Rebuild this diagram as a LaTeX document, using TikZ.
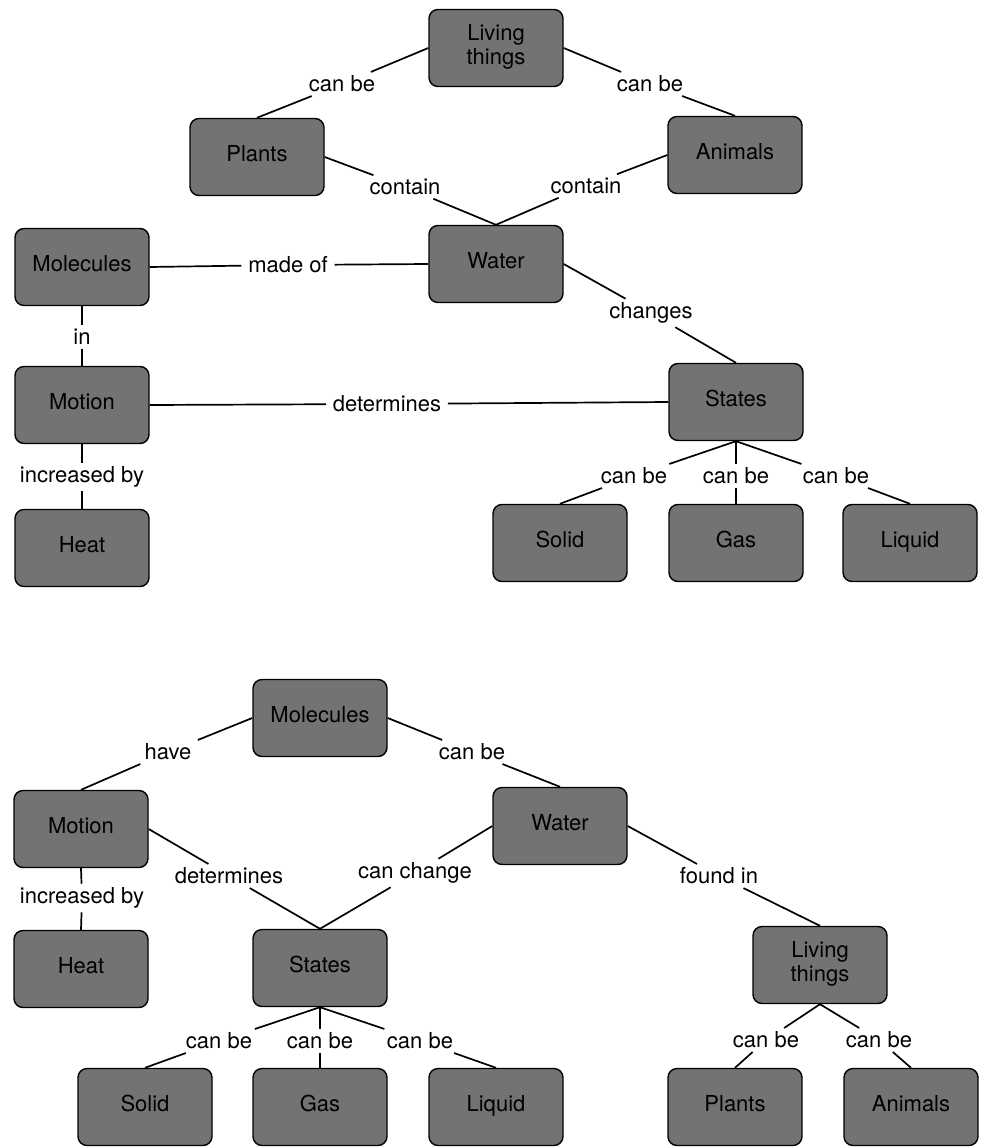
\documentclass[tikz,border=0pt]{standalone}
\usepackage{fontspec}
\setmainfont{TeX Gyre Heros}
\begin{document}
\begin{tikzpicture}[x=1pt,y=-1pt,
  box/.style={draw=black,line width=1.4pt,rounded corners=9pt,fill=black!55,
    minimum width=134pt,minimum height=77pt,align=center,
    font=\fontsize{22}{24}\selectfont,execute at begin node=\strut},
  lbl/.style={inner xsep=6pt,inner ysep=3pt,font=\fontsize{22}{24}\selectfont},
  every path/.style={line width=1.7pt}]
   \useasboundingbox (0,0) rectangle (982,1147);

   % first map
   \node[box] (tliv) at (496,48) {Living\\things};
   \node[box] (tpla) at (257,157) {Plants};
   \node[box] (tani) at (735,155) {Animals};
   \node[box] (twat) at (496,264) {Water};
   \node[box] (tmol) at (82,267) {Molecules};
   \node[box] (tmot) at (82,405) {Motion};
   \node[box] (thea) at (82,548) {Heat};
   \node[box] (tsta) at (736,402) {States};
   \node[box] (tsol) at (560,543) {Solid};
   \node[box] (tgas) at (736,543) {Gas};
   \node[box] (tliq) at (910,543) {Liquid};

   \node[lbl] (tcb1) at (342,84) {can be};
   \node[lbl] (tcb2) at (650,84) {can be};
   \node[lbl] (tcon1) at (405,187) {contain};
   \node[lbl] (tcon2) at (586,186) {contain};
   \node[lbl] (tmade) at (288,265) {made of};
   \node[lbl] (tin) at (82,337) {in};
   \node[lbl] (tchg) at (651,313) {changes};
   \node[lbl] (tdet) at (387,404) {determines};
   \node[lbl] (tinc) at (82,477) {increased by};
   \node[lbl] (tcb3) at (634,476) {can be};
   \node[lbl] (tcb4) at (736,476) {can be};
   \node[lbl] (tcb5) at (836,476) {can be};

   \draw (tliv.west) -- (tcb1) (tcb1) -- (tpla.north);
   \draw (tliv.east) -- (tcb2) (tcb2) -- (tani.north);
   \draw (tpla.east) -- (tcon1) (tcon1) -- (twat.north);
   \draw (tani.west) -- (tcon2) (tcon2) -- (twat.north);
   \draw (tmol.east) -- (tmade) (tmade) -- (twat.west);
   \draw (tmol.south) -- (tin) (tin) -- (tmot.north);
   \draw (twat.east) -- (tchg) (tchg) -- (tsta.north);
   \draw (tmot.east) -- (tdet) (tdet) -- (tsta.west);
   \draw (tmot.south) -- (tinc) (tinc) -- (thea.north);
   \draw (tsta.south) -- (tcb3) (tcb3) -- (tsol.north);
   \draw (tsta.south) -- (tcb4) (tcb4) -- (tgas.north);
   \draw (tsta.south) -- (tcb5) (tcb5) -- (tliq.north);

   % second map
   \node[box] (bmol) at (320,718) {Molecules};
   \node[box] (bmot) at (81,829) {Motion};
   \node[box] (bwat) at (560,826) {Water};
   \node[box] (bhea) at (81,969) {Heat};
   \node[box] (bsta) at (320,968) {States};
   \node[box] (bliv) at (820,965) {Living\\things};
   \node[box] (bsol) at (145,1107) {Solid};
   \node[box] (bgas) at (320,1107) {Gas};
   \node[box] (bliq) at (496,1107) {Liquid};
   \node[box] (bpla) at (735,1107) {Plants};
   \node[box] (bani) at (911,1107) {Animals};

   \node[lbl] (bhave) at (168,752) {have};
   \node[lbl] (bcb1) at (472,752) {can be};
   \node[lbl] (bdet) at (229,876) {determines};
   \node[lbl] (bchg) at (415,873) {can change};
   \node[lbl] (bfnd) at (719,876) {found in};
   \node[lbl] (binc) at (82,898) {increased by};
   \node[lbl] (bcb2) at (219,1041) {can be};
   \node[lbl] (bcb3) at (320,1041) {can be};
   \node[lbl] (bcb4) at (420,1041) {can be};
   \node[lbl] (bcb5) at (766,1040) {can be};
   \node[lbl] (bcb6) at (879,1040) {can be};

   \draw (bmol.west) -- (bhave) (bhave) -- (bmot.north);
   \draw (bmol.east) -- (bcb1) (bcb1) -- (bwat.north);
   \draw (bmot.east) -- (bdet) (bdet) -- (bsta.north);
   \draw (bwat.west) -- (bchg) (bchg) -- (bsta.north);
   \draw (bwat.east) -- (bfnd) (bfnd) -- (bliv.north);
   \draw (bmot.south) -- (binc) (binc) -- (bhea.north);
   \draw (bsta.south) -- (bcb2) (bcb2) -- (bsol.north);
   \draw (bsta.south) -- (bcb3) (bcb3) -- (bgas.north);
   \draw (bsta.south) -- (bcb4) (bcb4) -- (bliq.north);
   \draw (bliv.south) -- (bcb5) (bcb5) -- (bpla.north);
   \draw (bliv.south) -- (bcb6) (bcb6) -- (bani.north);
\end{tikzpicture}
\end{document}
